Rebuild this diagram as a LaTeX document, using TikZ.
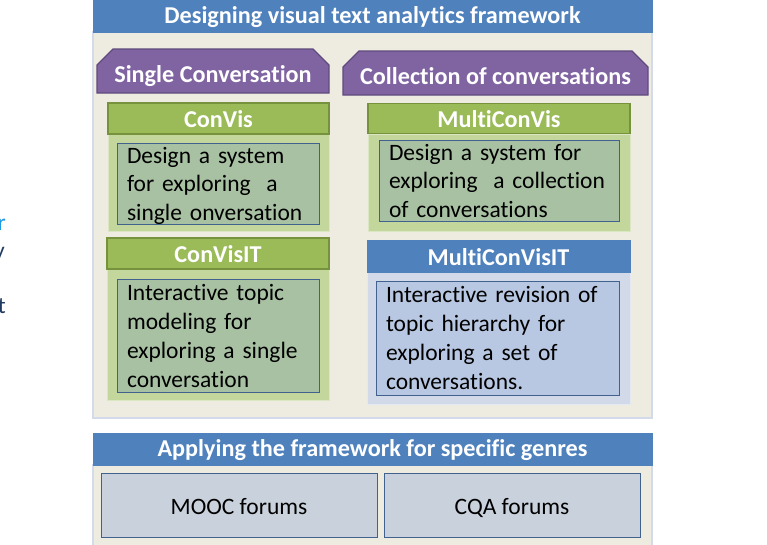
\documentclass[tikz,border=0pt]{standalone}
\usepackage{fontspec}
\setmainfont{Carlito}[Ligatures={NoCommon}]
\usetikzlibrary{shapes.misc}
\definecolor{hdrblue}{HTML}{4F81BD}
\definecolor{cream}{HTML}{EEECE1}
\definecolor{panelline}{HTML}{D3DBEA}
\definecolor{tabfill}{HTML}{8064A2}
\definecolor{tabline}{HTML}{5F4A7D}
\definecolor{greenhdr}{HTML}{9BBB59}
\definecolor{greenline}{HTML}{76923C}
\definecolor{greenbody}{HTML}{C3D69B}
\definecolor{greeninner}{HTML}{A8C1A3}
\definecolor{innerline}{HTML}{41628F}
\definecolor{bluebody}{HTML}{D2D9E8}
\definecolor{blueinner}{HTML}{B9C8E2}
\definecolor{genrebox}{HTML}{C9D2DC}
\definecolor{fragblue}{HTML}{1E9AE0}
\definecolor{fragdark}{HTML}{1F3A63}
\begin{document}
\begin{tikzpicture}[x=1pt,y=-1pt,
  bigfont/.style={font=\fontsize{23.5}{28.5}\selectfont},
  boldfont/.style={font=\bfseries\fontsize{24.2}{28.5}\selectfont},
  hdrbar/.style={fill=hdrblue, draw=hdrblue, text=white, inner sep=0pt, boldfont,
    text height=16pt, text depth=2pt},
  panel/.style={fill=cream, draw=panelline, line width=1.5pt, inner sep=0pt},
  tabbox/.style={chamfered rectangle, chamfered rectangle corners={north west,north east},
    chamfered rectangle xsep=8pt, chamfered rectangle ysep=8pt,
    fill=tabfill, draw=tabline, line width=1.3pt, text=white, inner sep=0pt, boldfont,
    text height=24pt, text depth=2pt},
  greenbar/.style={fill=greenhdr, draw=greenline, line width=1.3pt, text=white, inner sep=0pt,
    boldfont, text height=18pt, text depth=1pt},
  bluebar/.style={fill=hdrblue, draw=hdrblue, text=white, inner sep=0pt, boldfont,
    text height=18pt, text depth=0pt},
  gbody/.style={fill=greenbody, draw=greenbody!60!white, line width=0.8pt, inner sep=0pt},
  bbody/.style={fill=bluebody, draw=bluebody!60!white, line width=0.8pt, inner sep=0pt},
  textbox/.style={draw=innerline, line width=0.8pt, inner xsep=10pt, inner ysep=0pt,
    align=left, bigfont},
  genre/.style={fill=genrebox, draw=innerline, line width=0.8pt, inner sep=0pt, bigfont,
    text height=18pt, text depth=0pt},
  frag/.style={anchor=base east, inner sep=0pt, bigfont}
]
\useasboundingbox (0,0) rectangle (767,544);
\clip (0,0) rectangle (767,544);
\fill[white] (0,0) rectangle (767,544);

% clipped fragments at the left edge
\node[frag, text=fragblue] (fr1) at (6,230) {r};
\node[frag, text=fragdark] (fr2) at (5,258) {y};
\node[frag, text=fragdark] (fr3) at (6,313) {t};

% main framework panel
\node[panel, minimum width=559, minimum height=386] (frame) at (372.5,225) {};
\node[hdrbar, minimum width=559, minimum height=32] (title) at (372.5,16)
  {Designing visual text analytics framework};

% purple tabs
\node[tabbox, minimum width=232, minimum height=44] (single) at (213,71)
  {Single Conversation};
\node[tabbox, minimum width=305, minimum height=44] (collection) at (495.5,73)
  {Collection of conversations};

% ConVis
\node[gbody, minimum width=221, minimum height=97] (convisbody) at (218.5,182.5) {};
\node[greenbar, minimum width=221, minimum height=31] (convis) at (218.5,118.5) {ConVis};
\node[textbox, fill=greeninner, text width=182, minimum width=202, minimum height=80]
  (convistext) at (218,184)
  {\strut Design a system\\for exploring~ a\\single onversation};

% MultiConVis
\node[gbody, minimum width=262, minimum height=97] (mcvbody) at (499,182.5) {};
\node[greenbar, minimum width=262, minimum height=30] (mcv) at (499,118.5) {MultiConVis};
\node[textbox, fill=greeninner, text width=220, minimum width=240, minimum height=81]
  (mcvtext) at (499,180.5)
  {Design a system for\\exploring~ a collection\\of conversations};

% ConVisIT
\node[gbody, minimum width=222, minimum height=131] (citbody) at (218,334.5) {};
\node[greenbar, minimum width=222, minimum height=31] (cit) at (218,253.5) {ConVisIT};
\node[textbox, fill=greeninner, text width=182, minimum width=202, minimum height=113,
  font=\fontsize{23.5}{29}\selectfont]
  (cittext) at (218,335.5)
  {Interactive topic\\modeling for\\exploring a single\\conversation};

% MultiConVisIT
\node[bbody, minimum width=263, minimum height=132] (mcitbody) at (498.5,338) {};
\node[bluebar, minimum width=263, minimum height=32] (mcit) at (498.5,256) {MultiConVisIT};
\node[textbox, fill=blueinner, text width=223, minimum width=243, minimum height=114,
  font=\fontsize{23.5}{29}\selectfont]
  (mcittext) at (497.5,338)
  {Interactive revision of\\topic hierarchy for\\exploring a set of\\conversations.};

% genres panel
\node[panel, minimum width=559, minimum height=90] (genres) at (372.5,510) {};
\node[hdrbar, minimum width=559, minimum height=32] (apply) at (372.5,449)
  {Applying the framework for specific genres};
\node[genre, minimum width=276, minimum height=64] (mooc) at (239,505) {MOOC forums};
\node[genre, minimum width=256, minimum height=64] (cqa) at (512,505) {CQA forums};
\end{tikzpicture}
\end{document}
